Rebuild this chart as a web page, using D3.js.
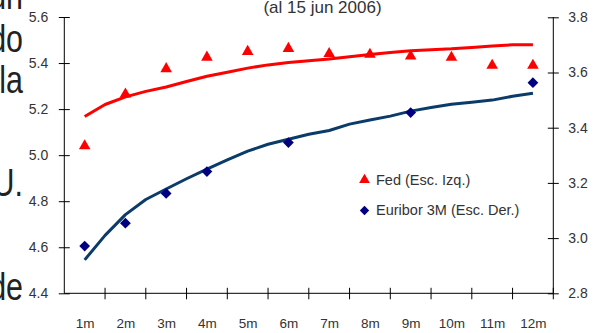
<!DOCTYPE html>
<html>
<head>
<meta charset="utf-8">
<script src="https://cdn.jsdelivr.net/npm/d3@7"></script>
<style>
  html, body { margin: 0; padding: 0; background: #fff; }
  svg { display: block; }
  text { font-family: "Liberation Sans", Arial, sans-serif; }
</style>
</head>
<body>
<svg id="chart" width="605" height="333"></svg>
<script>
// ---- data ----
const categories = ["1m","2m","3m","4m","5m","6m","7m","8m","9m","10m","11m","12m"];
const fedPoints = [5.04, 5.265, 5.375, 5.425, 5.45, 5.463, 5.441, 5.437, 5.43, 5.424, 5.39, 5.39];
const euriborPoints = [2.971, 3.054, 3.162, 3.241, null, 3.346, null, null, 3.455, null, null, 3.563];
const curveTenors = [1, 1.5, 2, 2.5, 3, 3.5, 4, 4.5, 5, 5.5, 6, 6.5, 7, 7.5, 8, 8.5, 9, 9.5, 10, 10.5, 11, 11.5, 12];
const fedCurve = [5.168, 5.22, 5.253, 5.277, 5.296, 5.32, 5.343, 5.36, 5.378, 5.392, 5.402, 5.41, 5.418, 5.427, 5.437, 5.446, 5.453, 5.458, 5.462, 5.468, 5.474, 5.479, 5.48];
const euriborCurve = [2.921, 3.01, 3.085, 3.14, 3.178, 3.215, 3.25, 3.283, 3.315, 3.34, 3.358, 3.376, 3.39, 3.413, 3.428, 3.442, 3.46, 3.473, 3.485, 3.492, 3.5, 3.514, 3.525];
const leftTicks = [4.4, 4.6, 4.8, 5.0, 5.2, 5.4, 5.6];
const rightTicks = [2.8, 3.0, 3.2, 3.4, 3.6, 3.8];
const legendLabels = ["Fed (Esc. Izq.)", "Euribor 3M (Esc. Der.)"];
const titleText = "(al 15 jun 2006)";
const sideWords = ["un", "do", "la", "U.", "de"];

// ---- layout ----
const svg = d3.select("#chart");
const X0 = 64.3, X1 = 553.3, YB = 293.3, YT = 17;

const xBand = d3.scaleBand().domain(categories).range([X0, X1]).padding(0);
const xLin = d3.scaleLinear().domain([0.5, 12.5]).range([X0, X1]);
const yL = d3.scaleLinear().domain([4.4, 5.6]).range([YB, YT]);
const yR = d3.scaleLinear().domain([2.8, 3.8]).range([YB, YT + 0.3]);

const textColor = "#333";

// side text (cut-off paragraph from neighbouring page), condensed
const sideY = [9, 52, 93, 196, 300];
svg.append("g").selectAll("text").data(sideWords).join("text")
  .attr("transform", (d, i) => `translate(23,${sideY[i]}) scale(0.8,1)`)
  .attr("text-anchor", "end")
  .attr("font-size", 38).attr("fill", "#222")
  .text(d => d);

// title
svg.append("text").attr("x", 322.5).attr("y", 13)
  .attr("text-anchor", "middle").attr("font-size", 17).attr("fill", textColor)
  .text(titleText);

// left axis
const gL = svg.append("g").attr("transform", `translate(${X0},0)`)
  .call(d3.axisLeft(yL).tickValues(leftTicks).tickFormat(d3.format(".1f")).tickSize(5.5).tickPadding(10.5));
gL.selectAll(".tick line").attr("x1", 5.5).attr("x2", -5.5);

// right axis
const gR = svg.append("g").attr("transform", `translate(${X1},0)`)
  .call(d3.axisRight(yR).tickValues(rightTicks).tickFormat(d3.format(".1f")).tickSize(5.5).tickPadding(9.5));
gR.selectAll(".tick line").attr("x1", -5.5).attr("x2", 5.5);

// bottom axis: boundary ticks + centred labels
const gB = svg.append("g").attr("transform", `translate(0,${YB})`);
gB.append("line").attr("x1", X0).attr("x2", X1).attr("stroke", "#000");
gB.selectAll("line.t").data(categories).join("line").attr("class", "t")
  .attr("x1", d => xBand(d) + xBand.bandwidth()).attr("x2", d => xBand(d) + xBand.bandwidth())
  .attr("y1", -5.5).attr("y2", 6).attr("stroke", "#000");
gB.selectAll("text").data(categories).join("text")
  .attr("x", d => xBand(d) + xBand.bandwidth() / 2 + 0.5).attr("y", 35)
  .attr("text-anchor", "middle").attr("font-size", 13.5).attr("fill", textColor)
  .text(d => d);

[gL, gR].forEach(g => {
  g.select(".domain").attr("stroke", "#000").attr("d", `M0,${YT}V${YB}`);
  g.selectAll(".tick line").attr("stroke", "#000");
  g.selectAll(".tick text").attr("font-size", 14).attr("fill", textColor)
    .style("font-family", '"Liberation Sans", Arial, sans-serif');
});

// curves
const fedLine = d3.line().x((d, i) => xLin(curveTenors[i])).y(d => yL(d));
const eurLine = d3.line().x((d, i) => xLin(curveTenors[i])).y(d => yR(d));
svg.append("path").attr("d", fedLine(fedCurve)).attr("fill", "none")
  .attr("stroke", "#ff0000").attr("stroke-width", 3).attr("stroke-linejoin", "round");
svg.append("path").attr("d", eurLine(euriborCurve)).attr("fill", "none")
  .attr("stroke", "#0b3b68").attr("stroke-width", 3).attr("stroke-linejoin", "round");

// markers
const tri = d3.symbol().type(d3.symbolTriangle).size(58);
const dia = d3.symbol().type(d3.symbolSquare).size(58);
svg.append("g").selectAll("path").data(fedPoints).join("path")
  .attr("d", tri)
  .attr("transform", (d, i) => `translate(${xBand(categories[i]) + xBand.bandwidth() / 2},${yL(d)})`)
  .attr("fill", "#ff0000");
svg.append("g").selectAll("path").data(euriborPoints.map((v, i) => ({v, c: categories[i]})).filter(d => d.v !== null))
  .join("path")
  .attr("d", dia)
  .attr("transform", d => `translate(${xBand(d.c) + xBand.bandwidth() / 2},${yR(d.v)}) rotate(45)`)
  .attr("fill", "#000080");

// legend
const lg = svg.append("g");
lg.append("path").attr("d", d3.symbol().type(d3.symbolTriangle).size(50)())
  .attr("transform", "translate(364.5,180)").attr("fill", "#ff0000");
lg.append("path").attr("d", d3.symbol().type(d3.symbolSquare).size(44)())
  .attr("transform", "translate(364.5,210.5) rotate(45)").attr("fill", "#000080");
lg.selectAll("text").data(legendLabels).join("text")
  .attr("x", 376).attr("y", (d, i) => 184.5 + i * 30)
  .attr("font-size", 14.5).attr("fill", textColor)
  .text(d => d);
</script>
</body>
</html>
